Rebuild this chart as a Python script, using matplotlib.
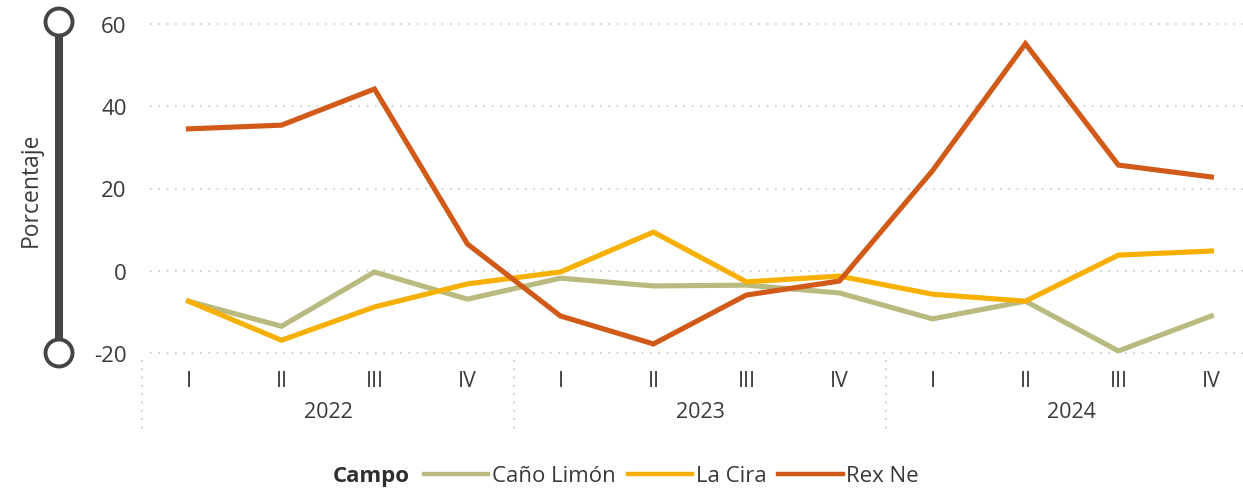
import matplotlib
matplotlib.use("Agg")
import matplotlib.pyplot as plt
from matplotlib.lines import Line2D
from matplotlib.patches import Circle

plt.rcParams['font.family'] = ['Open Sans', 'DejaVu Sans']

quarters = ["I", "II", "III", "IV"] * 3
years = ["2022", "2023", "2024"]
series_names = ["Caño Limón", "La Cira", "Rex Ne"]
cano_limon = [-7.4, -13.5, -0.3, -6.9, -1.8, -3.7, -3.5, -5.4, -11.7, -7.4, -19.5, -11.0]
la_cira = [-7.4, -16.9, -8.8, -3.2, -0.3, 9.4, -2.7, -1.3, -5.7, -7.4, 3.8, 4.8]
rex_ne = [34.5, 35.4, 44.2, 6.5, -11.0, -17.8, -5.9, -2.5, 24.3, 55.2, 25.7, 22.8]
colors = ["#B9BA80", "#F7B000", "#D15A18"]
yticks = [-20, 0, 20, 40, 60]

W, H = 1243, 489
fig = plt.figure(figsize=(W / 100, H / 100), dpi=100)
ax = fig.add_axes([142 / W, (H - 354) / H, (W - 142) / W, (354 - 25) / H])

x = list(range(len(quarters)))
for vals, c, name in zip([cano_limon, la_cira, rex_ne], colors, series_names):
    ax.plot(x, vals, color=c, lw=3.7, solid_joinstyle='miter', label=name, zorder=3)

ax.set_xlim(-0.5, 11.34)
ax.set_ylim(-20, 60)
for s in ax.spines.values():
    s.set_visible(False)

# dotted gridlines
for yt in yticks:
    ax.plot([-0.41, 11.34], [yt, yt], color="#C8C8C8", lw=1.2, ls=(0, (1, 4)), zorder=1, clip_on=False)

ax.set_yticks(yticks)
ax.set_yticklabels([str(v) for v in yticks], fontsize=16, color="#3A3A3A")
ax.tick_params(axis='y', length=0, pad=11)

ax.set_xticks(x)
ax.set_xticklabels(quarters, fontsize=15.5, color="#3A3A3A")
ax.tick_params(axis='x', length=0, pad=12)

trans = ax.get_xaxis_transform()
for i, yr in enumerate(years):
    ax.text(4 * i + 1.5, -0.178, yr, transform=trans, ha='center', va='center',
            fontsize=15.5, color="#3A3A3A")
for sep in [-0.5, 3.5, 7.5]:
    ax.plot([sep, sep], [-0.02, -0.25], transform=trans, color="#C8C8C8", lw=1.2,
            ls=(0, (1, 4)), clip_on=False)

# y-axis label and slider
fig.text(31 / W, 1 - 190 / H, "Porcentaje", rotation=90, ha='center', va='center',
         fontsize=16.5, color="#3A3A3A")
fig.add_artist(Line2D([59 / W, 59 / W], [1 - 25 / H, 1 - 354 / H], color="#454545", lw=5.8,
                      transform=fig.transFigure))
for yy in [23, 354]:
    fig.add_artist(Circle((59, H - yy), 13.5, transform=None, facecolor="white",
                          edgecolor="#454545", lw=2.8, zorder=5))

# legend
fig.text(333 / W, 1 - 477 / H, "Campo", fontsize=16, fontweight='bold', color="#2E2E2E",
         ha='left', va='center')
handles = [Line2D([], [], color=c, lw=3.2) for c in colors]
leg = fig.legend(handles, series_names, loc='center left', bbox_to_anchor=(424 / W, 1 - 477 / H),
                 ncol=3, frameon=False, fontsize=16, handlelength=2.9, handletextpad=0.15,
                 columnspacing=0.55, borderaxespad=0, borderpad=0)
for t in leg.get_texts():
    t.set_color("#3A3A3A")

fig.savefig("out.png", dpi=100)
